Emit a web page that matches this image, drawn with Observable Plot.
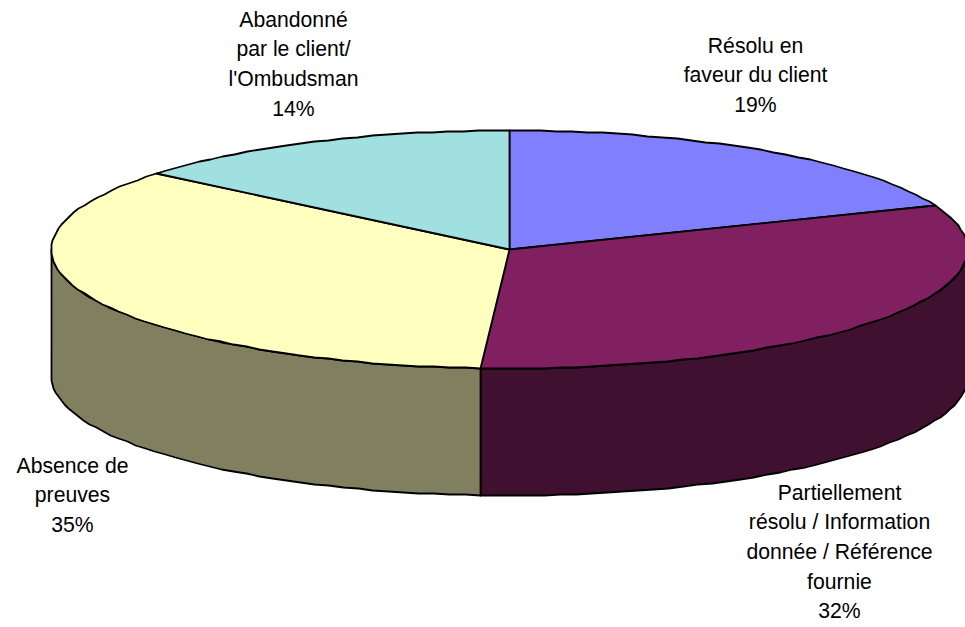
<!DOCTYPE html>
<html>
<head>
<meta charset="utf-8">
<script src="https://cdn.jsdelivr.net/npm/d3@7"></script>
<script src="https://cdn.jsdelivr.net/npm/@observablehq/plot@0.6"></script>
<style>
  html, body { margin: 0; padding: 0; background: #fff; }
  svg { display: block; }
</style>
</head>
<body>
<div id="chart"></div>
<script>
// Outcome shares, clockwise from twelve o'clock.
const categories = [
  "Résolu en\nfaveur du client",
  "Partiellement\nrésolu / Information\ndonnée / Référence\nfournie",
  "Absence de\npreuves",
  "Abandonné\npar le client/\nl'Ombudsman"
];
const shares = [19, 32, 35, 14];
const topColors = ["#8080ff", "#802060", "#ffffc0", "#a0e0e0"];
const wallColors = ["#404080", "#401030", "#808060", "#507070"];

// Tilted-disc layout.
const width = 965, height = 627;
const cx = 509, cy = 249, rx = 458, ry = 119, depth = 127;
const stepDeg = 2;
const labelAnchors = [[755, 46], [839, 493], [72, 466], [293, 20]];

const total = d3.sum(shares);
const edges = d3.cumsum(shares).map(v => v / total * 360);
const slices = shares.map((v, i) => ({
  i, from: i ? edges[i - 1] : 0, to: edges[i]
}));

// Angle in degrees clockwise from the top, projected onto the ellipse.
const rim = (deg, drop = 0) => {
  const a = deg * Math.PI / 180;
  return {
    x: Math.round(cx + rx * Math.sin(a)),
    y: Math.round(cy - ry * Math.cos(a)) + drop
  };
};
const arcPoints = (from, to, drop = 0) => {
  const n = Math.max(1, Math.ceil((to - from) / stepDeg));
  return d3.range(n + 1).map(k => rim(from + (to - from) * k / n, drop));
};

const topPolygons = slices.flatMap(s =>
  [{x: cx, y: cy}, ...arcPoints(s.from, s.to)].map(p => ({...p, key: `top${s.i}`}))
);

// Only the front half of the rim shows a side wall.
const wallPolygons = slices.flatMap(s => {
  const from = Math.max(s.from, 90), to = Math.min(s.to, 270);
  if (to <= from) return [];
  return [...arcPoints(from, to), ...arcPoints(from, to, depth).reverse()]
    .map(p => ({...p, key: `wall${s.i}`}));
});

const labels = categories.map((name, i) => ({
  text: `${name}\n${shares[i]}%`,
  x: labelAnchors[i][0],
  y: labelAnchors[i][1] - 15
}));

const chart = Plot.plot({
  width, height,
  margin: 0,
  x: {type: "identity", axis: null},
  y: {type: "identity", axis: null},
  color: {
    domain: [...slices.map(s => `top${s.i}`), ...slices.map(s => `wall${s.i}`)],
    range: [...topColors, ...wallColors]
  },
  style: {background: "#fff"},
  marks: [
    Plot.line(wallPolygons, {
      x: "x", y: "y", z: "key", fill: "key",
      stroke: "#000", strokeWidth: 1.8, curve: "linear-closed", strokeLinejoin: "round"
    }),
    Plot.line(topPolygons, {
      x: "x", y: "y", z: "key", fill: "key",
      stroke: "#000", strokeWidth: 1.8, curve: "linear-closed", strokeLinejoin: "round"
    }),
    Plot.text(labels, {
      x: "x", y: "y", text: "text",
      lineAnchor: "top", textAnchor: "middle", lineHeight: 1.4,
      fontFamily: "Liberation Sans, Arial, sans-serif", fontSize: 21.2, fill: "#000"
    })
  ]
});
document.getElementById("chart").appendChild(chart);
</script>
</body>
</html>
